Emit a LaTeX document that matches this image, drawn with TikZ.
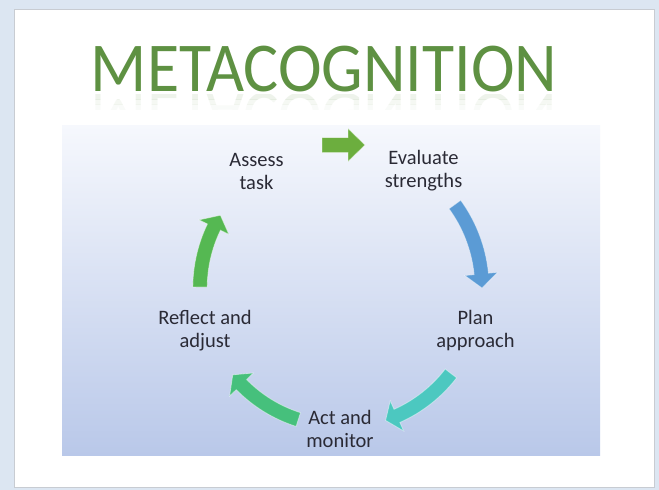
\documentclass[tikz,border=0pt]{standalone}
\usepackage{fontspec}
\setmainfont{Carlito}
\usetikzlibrary{positioning}

\definecolor{outerblue}{HTML}{DCE6F2}
\definecolor{cardline}{HTML}{C8CCD2}
\definecolor{paneltop}{HTML}{F6F8FD}
\definecolor{panelbot}{HTML}{B9C8E9}
\definecolor{titlegreen}{HTML}{5E9142}
\definecolor{labeltext}{HTML}{2A2A35}
\definecolor{topgreen}{HTML}{6CAE3E}
\definecolor{stepblue}{HTML}{5B9BD5}
\definecolor{stepteal}{HTML}{4CC8C0}
\definecolor{stepsea}{HTML}{46C07C}
\definecolor{leftgreen}{HTML}{55B852}

% colour / tail angle / head base angle / tip angle / radius
\def\arrowlist{stepblue/36/5.7/0/142, stepteal/-37.6/-66/-71/140, stepsea/-107.6/-135.6/-141/138, leftgreen/179.6/154.2/148.7/140}
\def\shaft{7.2}
\def\head{16.5}

\tikzstyle{titletext}=[font=\fontsize{70}{70}\selectfont, text=titlegreen, inner sep=0pt, xscale=0.94]
\tikzstyle{phase}=[font=\fontsize{20.5}{23}\selectfont, text=labeltext, align=center, inner sep=0pt]
\tikzstyle{blockarrow}=[draw=white, draw opacity=0.45, line width=0.8pt]

\begin{document}
\begin{tikzpicture}[x=1pt,y=-1pt]
  \useasboundingbox (0,0) rectangle (659,490);
  % frame and panel
  \fill[outerblue] (0,0) rectangle (659,490);
  \filldraw[fill=white, draw=cardline] (14,9) rectangle (654,487);
  \shade[top color=paneltop, bottom color=panelbot] (62,125) rectangle (600,455);

  % title with its faint reflection
  \node[titletext] (title) at (324,69) {METACOGNITION};
  \foreach \top/\bot/\op in {94/99/0.10, 99/104/0.06, 104/109/0.03} {
    \begin{scope}
      \clip (62,\top) rectangle (600,\bot);
      \node[titletext, yscale=-1, anchor=base, opacity=\op] at (324,93) {METACOGNITION};
    \end{scope}
  }

  % the five stages
  \node[phase] (assess)   at (256.5,171) {Assess\\task};
  \node[phase] (evaluate) at (423.5,171) {Evaluate\\strengths};
  \node[phase] (plan)     at (475.5,331) {Plan\\approach};
  \node[phase] (act)      at (340,429)   {Act and\\monitor};
  \node[phase] (reflect)  at (205,331)   {Reflect and\\adjust};

  % straight arrow between assess and evaluate
  \path[blockarrow, fill=topgreen] (322,137.5) -- (348,137.5) -- (348,128.5) -- (365,145)
    -- (348,161.5) -- (348,152.5) -- (322,152.5) -- cycle;

  % curved block arrows round the hub
  \coordinate (hub) at (340,288);
  \begin{scope}[shift={(hub)}, y=1pt]
    \foreach \col/\tail/\base/\tip/\rad in \arrowlist {
      \path[blockarrow, fill=\col]
        (\tail:\rad+\shaft) arc[start angle=\tail, end angle=\base, radius=\rad+\shaft]
        -- (\base:\rad+\head) -- (\tip:\rad) -- (\base:\rad-\head)
        -- (\base:\rad-\shaft) arc[start angle=\base, end angle=\tail, radius=\rad-\shaft]
        -- cycle;
    }
  \end{scope}
\end{tikzpicture}
\end{document}
